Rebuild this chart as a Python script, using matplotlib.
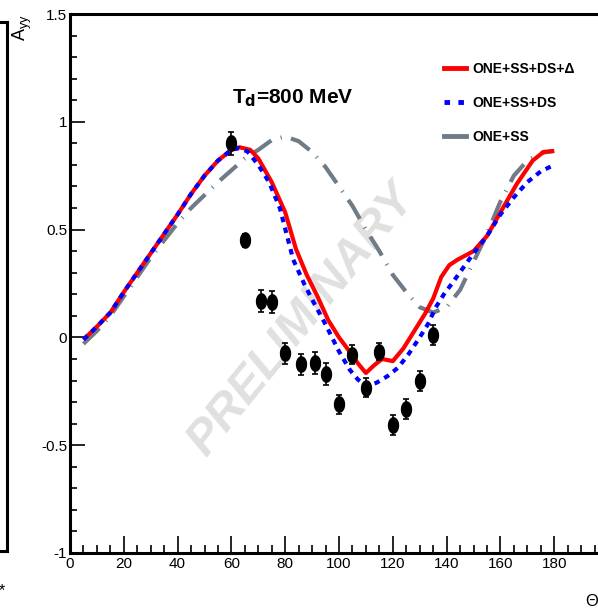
import numpy as np
import matplotlib
matplotlib.use("Agg")
import matplotlib.pyplot as plt
from matplotlib import font_manager

# data
theta_data = [60, 65, 71, 75, 80, 86, 91, 95, 100, 105, 110, 115, 120, 125, 130, 135]
ayy_data = [0.90, 0.45, 0.168, 0.163, -0.074, -0.125, -0.12, -0.17, -0.31, -0.08,
            -0.233, -0.066, -0.407, -0.333, -0.202, 0.011]
ayy_err = [0.055, 0.03, 0.05, 0.05, 0.05, 0.05, 0.05, 0.05, 0.045, 0.045,
           0.045, 0.04, 0.045, 0.045, 0.045, 0.045]

red_x = [5, 10, 15, 20, 25, 30, 35, 40, 45, 50, 55, 60, 63, 67, 70, 75, 80, 84, 88,
         92, 96, 100, 103, 107, 110, 113, 116, 120, 124, 128, 132, 135, 138, 141,
         144, 147, 150, 155, 160, 166, 172, 176, 180]
red_y = [-0.01, 0.05, 0.115, 0.21, 0.30, 0.39, 0.48, 0.57, 0.665, 0.75, 0.82, 0.87,
         0.882, 0.87, 0.83, 0.72, 0.58, 0.41, 0.29, 0.19, 0.08, 0.0, -0.05, -0.12,
         -0.165, -0.13, -0.10, -0.11, -0.05, 0.03, 0.11, 0.18, 0.28, 0.335, 0.36,
         0.38, 0.40, 0.47, 0.58, 0.71, 0.82, 0.86, 0.865]

blue_x = [5, 10, 15, 20, 25, 30, 35, 40, 45, 50, 55, 60, 63, 66, 70, 74, 78, 83, 87,
          90, 95, 100, 104, 107, 110, 114, 118, 122, 126, 130, 133, 136, 139, 142,
          146, 150, 155, 160, 165, 170, 175, 180]
blue_y = [-0.01, 0.05, 0.115, 0.21, 0.30, 0.39, 0.48, 0.57, 0.665, 0.75, 0.82, 0.87,
          0.878, 0.862, 0.80, 0.72, 0.60, 0.36, 0.25, 0.176, 0.06, -0.065, -0.15,
          -0.195, -0.225, -0.21, -0.18, -0.14, -0.075, 0.0, 0.06, 0.14, 0.20, 0.25,
          0.32, 0.39, 0.47, 0.57, 0.65, 0.72, 0.77, 0.80]

grey_x = [5, 10, 15, 20, 25, 30, 35, 40, 45, 50, 55, 60, 65, 70, 75, 80, 85, 90, 95,
          100, 105, 110, 115, 120, 125, 130, 135, 140, 145, 150, 155, 160, 165, 170,
          175, 180]
grey_y = [-0.03, 0.03, 0.10, 0.19, 0.28, 0.37, 0.45, 0.53, 0.60, 0.66, 0.72, 0.775,
          0.83, 0.87, 0.915, 0.932, 0.91, 0.86, 0.79, 0.70, 0.61, 0.50, 0.40, 0.29,
          0.21, 0.14, 0.115, 0.14, 0.22, 0.35, 0.48, 0.63, 0.75, 0.82, 0.855, 0.865]

labels = ["ONE+SS+DS+\u0394", "ONE+SS+DS", "ONE+SS"]

names = {f.name for f in font_manager.fontManager.ttflist}
narrow = "Liberation Sans Narrow" if "Liberation Sans Narrow" in names else "Liberation Sans"
plt.rcParams["font.family"] = [narrow, "DejaVu Sans"]
plt.rcParams["axes.unicode_minus"] = False
plt.rcParams["lines.scale_dashes"] = False

W, H = 598, 613
fig = plt.figure(figsize=(W / 100, H / 100), dpi=100)

# main frame (right part is cut off in the reference)
ax = fig.add_axes([70 / W, 1 - 553 / H, 538 / W, 539 / H])
ax.set_xlim(0, 200)
ax.set_ylim(-1, 1.5)

grey_c = "#6f7b87"
ax.plot(grey_x, grey_y, color=grey_c, lw=3.0, dashes=(16, 7, 0.8, 7), zorder=2)
ax.plot(red_x, red_y, color="#ff0000", lw=3.0, solid_capstyle="butt", zorder=3)
ax.plot(blue_x, blue_y, color="#0000ff", lw=3.0, dashes=(4, 4), zorder=4)

t = np.linspace(0, 2 * np.pi, 40)
ellipse = list(zip(0.65 * np.cos(t), np.sin(t)))
ax.errorbar(theta_data, ayy_data, yerr=ayy_err, fmt="none", ecolor="black",
            elinewidth=1.2, capsize=2.5, capthick=1.2, zorder=5)
ax.plot(theta_data, ayy_data, linestyle="none", marker=ellipse, ms=11,
        color="black", zorder=6)

ax.text(86, 0.08, "PRELIMINARY", rotation=51, ha="center", va="center",
        fontsize=35, fontweight="bold", fontstyle="italic", color="#e0e0e0",
        family=["Liberation Sans", "DejaVu Sans"], zorder=0)

ax.text(83, 1.11, "T$_\\mathbf{d}$=800 MeV", ha="center", va="center",
        fontsize=15, fontweight="bold")

ax.set_xticks(np.arange(0, 181, 20))
ax.set_xticks(np.arange(0, 201, 5), minor=True)
ax.set_yticks(np.arange(-1, 1.51, 0.5))
ax.set_yticks(np.arange(-1, 1.51, 0.1), minor=True)
ax.set_yticklabels(["-1", "-0.5", "0", "0.5", "1", "1.5"])
ax.tick_params(which="both", direction="in", top=False, right=False,
               labelsize=11, width=1.2)
ax.tick_params(axis="y", which="major", length=11, pad=2)
ax.tick_params(axis="y", which="minor", length=5)
ax.tick_params(axis="x", which="major", length=12, pad=3)
ax.tick_params(axis="x", which="minor", length=6)
for s in ["left", "bottom", "top"]:
    ax.spines[s].set_linewidth(2.2)
ax.spines["right"].set_visible(False)

fig.text(22 / W, 1 - 14 / H, "A$_\\mathregular{yy}$", rotation=90, ha="center",
         va="top", fontsize=13)
fig.text(585 / W, 1 - 601 / H, "\u0398*", ha="left", va="center", fontsize=12)

# legend
h_red, = ax.plot([], [], color="#ff0000", lw=3.5)
h_blue, = ax.plot([], [], color="#0000ff", lw=3.5, dashes=(4, 6))
h_grey, = ax.plot([], [], color=grey_c, lw=3.5)
fig.legend([h_red, h_blue, h_grey], labels, loc="upper left",
           bbox_to_anchor=(437 / W, 1 - 55 / H), frameon=False,
           prop={"weight": "bold", "size": 10}, handlelength=1.6,
           handletextpad=0.45, labelspacing=1.45, borderpad=0)

# edge of the neighbouring panel on the left
ax0 = fig.add_axes([-0.5, 1 - 551 / H, 0.5 + 7 / W, 529 / H])
ax0.set_xticks([])
ax0.set_yticks([])
ax0.spines["left"].set_visible(False)
for s in ["right", "top", "bottom"]:
    ax0.spines[s].set_linewidth(2.2)
fig.text(6 / W, 1 - 592 / H, "\u0398*", ha="right", va="center", fontsize=12)

fig.savefig("out.png", dpi=100)
